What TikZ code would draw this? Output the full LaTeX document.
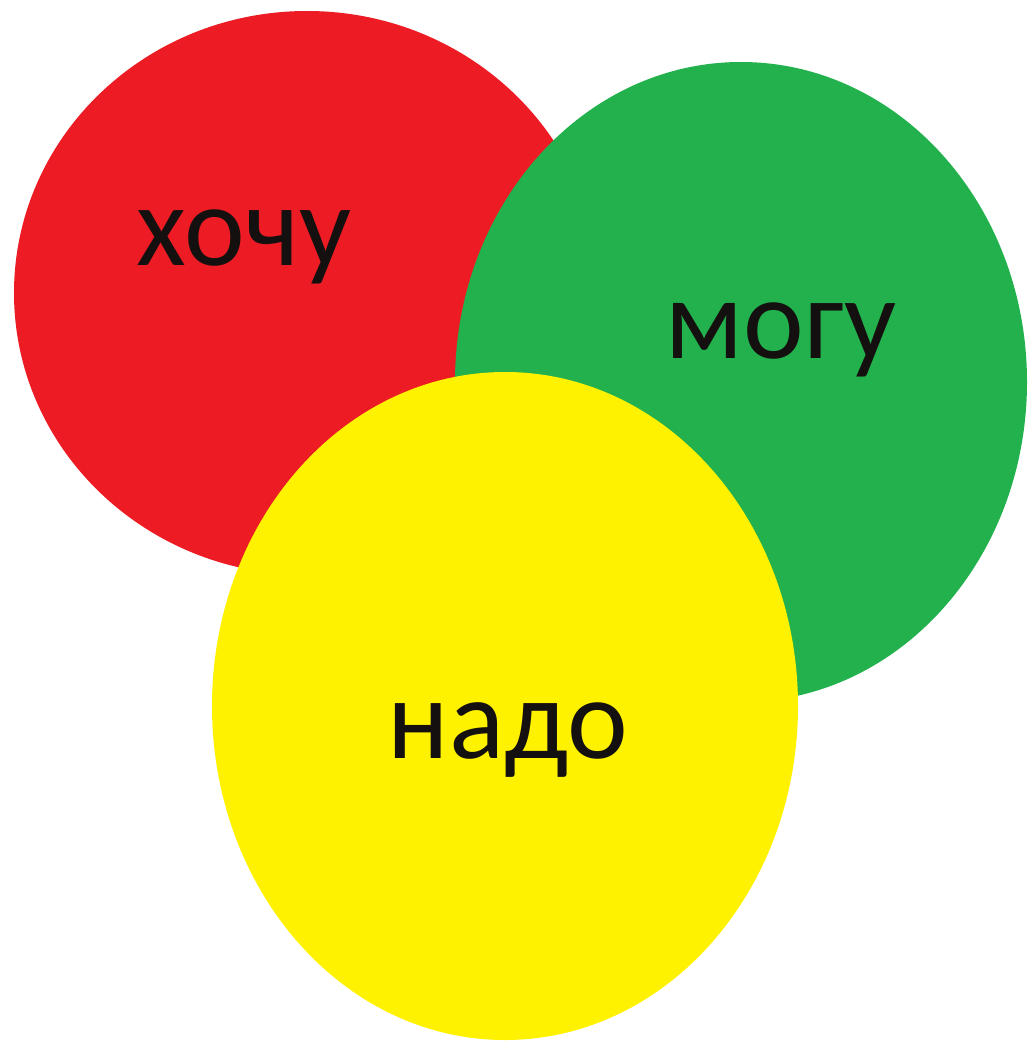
\documentclass[tikz,border=0pt]{standalone}
\usepackage{fontspec}
\setmainfont{Carlito}
\usepackage{tikz}
\usetikzlibrary{shapes.geometric}
\definecolor{Red}{HTML}{ED1C24}
\definecolor{Green}{HTML}{22B14C}
\definecolor{Yellow}{HTML}{FFF200}
\definecolor{Ink}{HTML}{141010}

\begin{document}
\begin{tikzpicture}[x=1pt,y=-1pt,
blob/.style={ellipse,inner sep=0pt,draw=none},
word/.style={anchor=base,inner sep=0pt,text=Ink,font=\fontsize{115}{115}\selectfont}]
\useasboundingbox (0,0) rectangle (1028,1043);
\fill[white] (0,0) rectangle (1028,1043);
\node[blob,fill=Red,minimum width=586pt,minimum height=564pt] (want) at (307,293) {};
\node[blob,fill=Green,minimum width=572pt,minimum height=640pt] (can) at (741,382) {};
\node[blob,fill=Yellow,minimum width=586pt,minimum height=668pt] (need) at (505,706) {};
\node[word] (wantlbl) at (244,265) {хочу};
\node[word] (canlbl) at (781,358) {могу};
\node[word] (needlbl) at (508,758) {надо};
\end{tikzpicture}
\end{document}
